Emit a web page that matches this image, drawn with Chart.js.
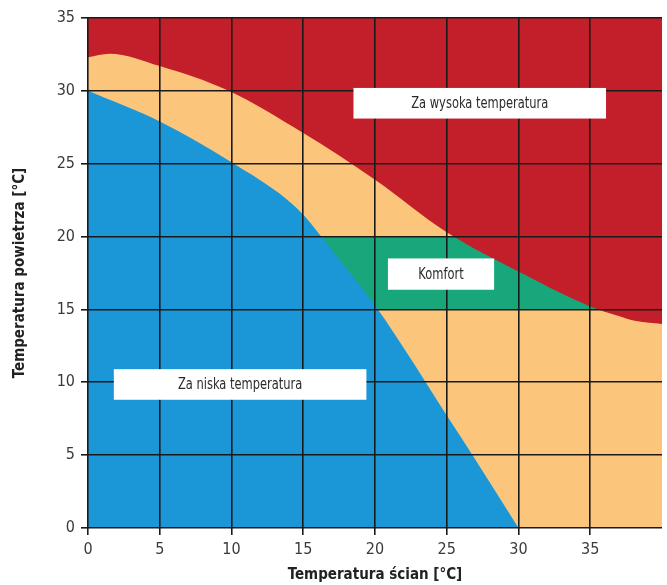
<!DOCTYPE html>
<html>
<head>
    <script src="https://cdn.jsdelivr.net/npm/chart.js@4.4.1/dist/chart.umd.min.js"></script>
    <style>
        body {
            margin: 0;
            padding: 0;
            background: #fff;
        }
        #wrap {
            width: 667px;
            height: 585px;
        }
    </style>
</head>
<body>
<div id="wrap">
    <canvas id="myChart"></canvas>
</div>

<script>
    // boundary curves (x = wall temp, y = air temp)
    const tooHotX = [0, 1.5, 5, 9.8, 15, 20, 25, 30, 35, 36.8, 38.2, 40];
    const tooHotY = [32.3, 32.55, 31.7, 30.0, 27.1, 23.9, 20.3, 17.6, 15.2, 14.6, 14.2, 14.0];

    const tooColdX = [0, 5, 10, 13.8, 15.2, 16.25, 18.1, 20.2, 22.5, 24.3, 26.8, 30];
    const tooColdY = [30, 27.9, 25.1, 22.6, 21.3, 20, 17.7, 15, 11.6, 8.8, 5, 0];

    // comfort band: air 15..20 °C (left and top clipped by the other zones)
    const comfortX = [16, 36];
    const comfortTop = 20;
    const comfortBottom = 15;

    const xTicks = [0, 5, 10, 15, 20, 25, 30, 35];
    const yTicks = [0, 5, 10, 15, 20, 25, 30, 35];

    const zoneLabels = ['Za wysoka temperatura', 'Komfort', 'Za niska temperatura'];
    // label boxes in data units: [x1, x2, y1, y2]
    const labelBoxes = [
        [18.5, 36.1, 28.1, 30.2],
        [20.9, 28.3, 16.35, 18.5],
        [1.8, 19.4, 8.8, 10.9]
    ];

    const font = "'Liberation Sans Narrow', 'DejaVu Sans Condensed', sans-serif";

    function pts(xs, ys) {
        return xs.map((x, i) => ({x: x, y: ys[i]}));
    }

    // white label boxes drawn over the grid
    const boxPlugin = {
        id: 'zoneBoxes',
        afterDraw(chart) {
            const ctx = chart.ctx;
            const xs = chart.scales.x;
            const ys = chart.scales.y;
            ctx.save();
            labelBoxes.forEach((b, i) => {
                const x1 = xs.getPixelForValue(b[0]);
                const x2 = xs.getPixelForValue(b[1]);
                const y1 = ys.getPixelForValue(b[3]);
                const y2 = ys.getPixelForValue(b[2]);
                ctx.fillStyle = '#ffffff';
                ctx.fillRect(x1, y1, x2 - x1, y2 - y1);
                ctx.save();
                ctx.translate((x1 + x2) / 2, (y1 + y2) / 2 + 1);
                ctx.scale(0.85, 1);
                ctx.fillStyle = '#2b2b2b';
                ctx.font = '15px ' + font;
                ctx.textAlign = 'center';
                ctx.textBaseline = 'middle';
                ctx.fillText(zoneLabels[i], 0, 0);
                ctx.restore();
            });
            ctx.restore();
        }
    };

    const ctx = document.getElementById('myChart').getContext('2d');
    const myChart = new Chart(ctx, {
        type: 'line',
        data: {
            datasets: [
                {
                    label: 'Za niska temperatura',
                    data: pts(tooColdX, tooColdY),
                    borderWidth: 0,
                    pointRadius: 0,
                    cubicInterpolationMode: 'monotone',
                    backgroundColor: '#1b97d7',
                    fill: 'origin',
                    order: 1
                },
                {
                    label: 'Za wysoka temperatura',
                    data: pts(tooHotX, tooHotY),
                    borderWidth: 0,
                    pointRadius: 0,
                    cubicInterpolationMode: 'monotone',
                    backgroundColor: '#c21f2a',
                    fill: 'end',
                    order: 2
                },
                {
                    label: 'Komfort',
                    data: comfortX.map(x => ({x: x, y: comfortTop})),
                    borderWidth: 0,
                    pointRadius: 0,
                    backgroundColor: '#17a77a',
                    fill: {value: comfortBottom},
                    order: 3
                },
                {
                    label: 'tło',
                    data: [{x: 0, y: 35}, {x: 40, y: 35}],
                    borderWidth: 0,
                    pointRadius: 0,
                    backgroundColor: '#fbc67c',
                    fill: 'origin',
                    order: 4
                }
            ]
        },
        options: {
            responsive: true,
            maintainAspectRatio: false,
            animation: false,
            layout: {padding: {top: 18, right: 0, left: 0, bottom: 0}},
            plugins: {
                legend: {display: false},
                tooltip: {enabled: false}
            },
            scales: {
                x: {
                    type: 'linear',
                    min: 0,
                    max: 40,
                    afterFit: s => { s.height = 57; },
                    afterBuildTicks: s => { s.ticks = xTicks.concat([40]).map(v => ({value: v})); },
                    grid: {
                        z: 1,
                        color: c => c.tick && c.tick.value === 40 ? 'rgba(0,0,0,0)' : '#1a1a1a',
                        lineWidth: 1.6,
                        tickLength: 7
                    },
                    border: {display: false},
                    ticks: {
                        padding: 5,
                        color: '#3a3a3a',
                        font: {family: font, size: 16},
                        callback: v => v === 40 ? '' : v
                    },
                    title: {
                        display: true,
                        text: 'Temperatura ścian [°C]',
                        color: '#222',
                        font: {family: font, size: 15, weight: 'bold'},
                        padding: {top: 0, bottom: 1}
                    }
                },
                y: {
                    type: 'linear',
                    min: 0,
                    max: 35,
                    afterFit: s => { s.width = 88; },
                    afterBuildTicks: s => { s.ticks = yTicks.map(v => ({value: v})); },
                    grid: {
                        z: 1,
                        color: '#1a1a1a',
                        lineWidth: 1.6,
                        tickLength: 7
                    },
                    border: {display: false},
                    ticks: {
                        padding: 6,
                        color: '#3a3a3a',
                        font: {family: font, size: 16}
                    },
                    title: {
                        display: true,
                        text: 'Temperatura powietrza [°C]',
                        color: '#222',
                        font: {family: font, size: 15, weight: 'bold'},
                        padding: {top: 11, bottom: 0}
                    }
                }
            }
        },
        plugins: [boxPlugin]
    });
</script>

</body>
</html>
